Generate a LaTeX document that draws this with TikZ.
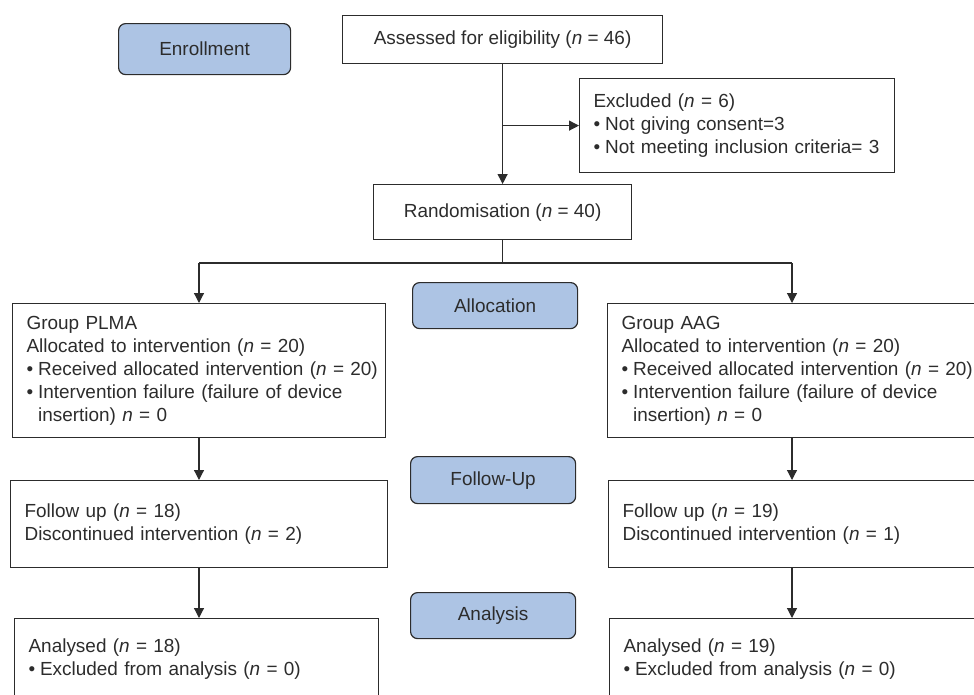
\documentclass[tikz,border=0pt]{standalone}
\usepackage{fontspec}
\setmainfont{Liberation Sans}
\usetikzlibrary{arrows.meta}
\definecolor{ink}{HTML}{2C2C2C}
\definecolor{stagefill}{RGB}{173,196,228}
\newcommand{\bul}{\makebox[11.5pt][l]{•}}
\newcommand{\bulgap}{\hspace*{11.5pt}}
\hfuzz=40pt
\begin{document}
\begin{tikzpicture}[x=1pt,y=-1pt,
  every node/.style={font=\fontsize{18.95}{23}\selectfont, text=ink},
  box/.style={draw=ink, line width=1.2pt, rectangle, anchor=north west, inner xsep=14pt, inner ysep=0pt, align=left},
  cbox/.style={draw=ink, line width=1.2pt, rectangle, anchor=north west, inner sep=0pt, align=center},
  stage/.style={draw=ink, line width=1.2pt, fill=stagefill, rounded corners=7pt, anchor=north west, inner sep=0pt},
  arr/.style={draw=ink, line width=1.2pt, -{Triangle[length=10pt,width=10pt]}},
  ln/.style={draw=ink, line width=1.2pt}]
\useasboundingbox (0,0) rectangle (974,694);
\clip (0,0) rectangle (974,694);

% stage labels
\node[stage, minimum width=172pt, minimum height=51pt] (enr) at (118,23) {Enrollment};
\node[stage, minimum width=165pt, minimum height=46pt] (alloc) at (412,282) {Allocation};
\node[stage, minimum width=165pt, minimum height=47pt] (fup) at (410,456) {Follow-Up};
\node[stage, minimum width=165pt, minimum height=46pt] (ana) at (410,592) {Analysis};

% enrollment
\node[cbox, minimum width=320pt, minimum height=48pt] (assess) at (342,15) {Assessed for eligibility (\textit{n} = 46)};
\node[box, text width=287pt, minimum height=94pt] (excl) at (579,78) {Excluded (\textit{n} = 6)\\\mbox{\bul Not giving consent=3}\\\mbox{\bul Not meeting inclusion criteria= 3}};
\node[cbox, minimum width=258pt, minimum height=55pt] (rand) at (373,184) {Randomisation (\textit{n} = 40)};

% PLMA arm
\node[box, text width=345pt, minimum height=134pt] (plma) at (12,303) {Group PLMA\\\mbox{Allocated to intervention (\textit{n} = 20)}\\\mbox{\bul Received allocated intervention (\textit{n} = 20)}\\\mbox{\bul Intervention failure (failure of device}\\\mbox{\bulgap insertion) \textit{n} = 0}};
\node[box, text width=349pt, minimum height=87pt] (plmaF) at (10,480) {Follow up (\textit{n} = 18)\\\mbox{Discontinued intervention (\textit{n} = 2)}};
\node[box, text width=336pt, minimum height=80pt] (plmaA) at (14,618) {Analysed (\textit{n} = 18)\\\mbox{\bul Excluded from analysis (\textit{n} = 0)}};

% AAG arm
\node[box, text width=352pt, minimum height=134pt] (aag) at (607,303) {Group AAG\\\mbox{Allocated to intervention (\textit{n} = 20)}\\\mbox{\bul Received allocated intervention (\textit{n} = 20)}\\\mbox{\bul Intervention failure (failure of device}\\\mbox{\bulgap insertion) \textit{n} = 0}};
\node[box, text width=352pt, minimum height=87pt] (aagF) at (608,480) {Follow up (\textit{n} = 19)\\\mbox{Discontinued intervention (\textit{n} = 1)}};
\node[box, text width=352pt, minimum height=80pt] (aagA) at (609,618) {Analysed (\textit{n} = 19)\\\mbox{\bul Excluded from analysis (\textit{n} = 0)}};

% connectors
\draw[arr] (assess.south) -- (rand.north);
\coordinate (j1) at (assess.south |- excl.west);
\draw[arr] (j1) -- (excl.west);
\coordinate (hl) at (199,263);
\coordinate (hr) at (792,263);
\draw[ln] (rand.south) -- (rand.south |- hl);
\draw[ln] (hl) -- (hr);
\draw[arr] (hl) -- (hl |- plma.north);
\draw[arr] (hr) -- (hr |- aag.north);
\draw[arr] (plma.south -| hl) -- (hl |- plmaF.north);
\draw[arr] (plmaF.south -| hl) -- (hl |- plmaA.north);
\draw[arr] (aag.south -| hr) -- (hr |- aagF.north);
\draw[arr] (aagF.south -| hr) -- (hr |- aagA.north);
\end{tikzpicture}
\end{document}
